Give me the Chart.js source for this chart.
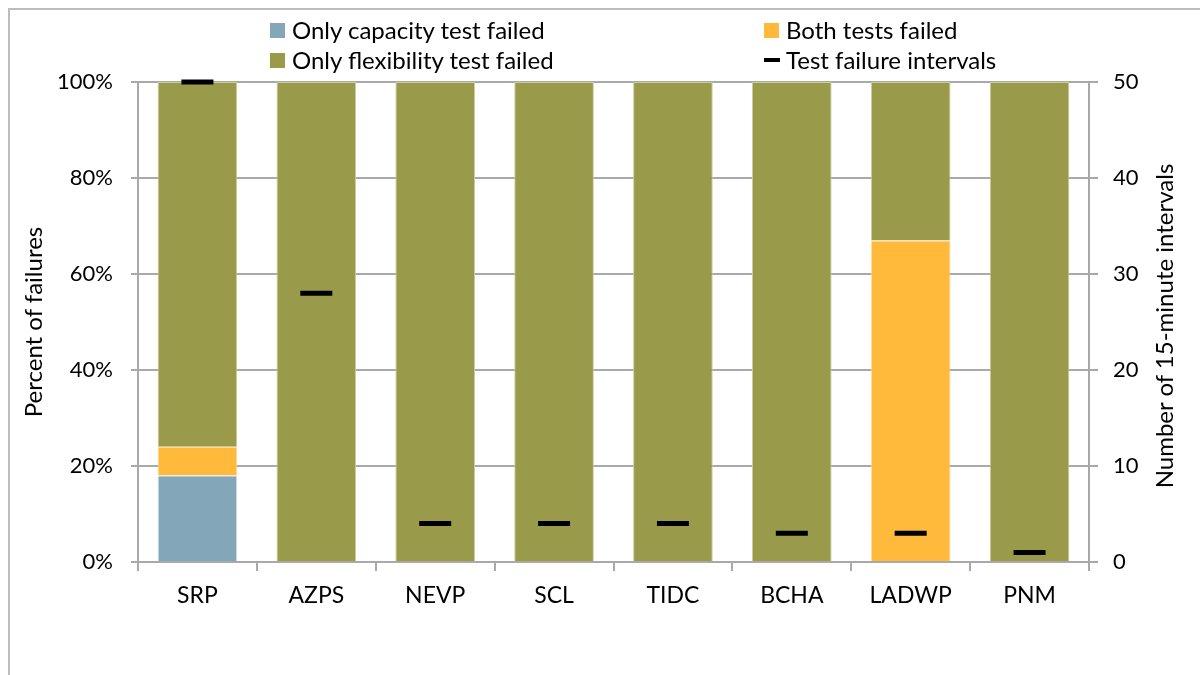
<!DOCTYPE html>
<html>
<head>
<meta charset="utf-8">
<script src="https://cdn.jsdelivr.net/npm/chart.js@4"></script>
<style>
    body { margin: 0; background: #fff; font-family: Lato, sans-serif; }
    #wrap { position: relative; width: 1200px; height: 675px; overflow: hidden; }
    #frame { position: absolute; left: 8px; top: 8px; width: 1300px; height: 800px; border-left: 2px solid #bdbdbd; border-top: 2px solid #bdbdbd; }
    #chart { position: absolute; left: 0; top: 0; }
    .lg { position: absolute; font-size: 24px; color: #000; line-height: 28px; white-space: nowrap; }
    .lg span.box { position: absolute; left: -22px; top: 7px; width: 15px; height: 15px; }
    .lg span.dash { position: absolute; left: -22px; top: 12px; width: 16px; height: 4px; background: #000; }
    .ttl { position: absolute; font-size: 24px; color: #000; line-height: 28px; white-space: nowrap;
           width: 400px; text-align: center; transform: rotate(-90deg); transform-origin: center center; }
</style>
</head>
<body>
<div id="wrap">
    <div id="frame"></div>
    <canvas id="chart" width="1200" height="675"></canvas>
    <div class="lg" style="left:292px; top:16px;"><span class="box" style="background:#84A6B9"></span>Only capacity test failed</div>
    <div class="lg" style="left:786px; top:16px;"><span class="box" style="background:#FFB93B"></span>Both tests failed</div>
    <div class="lg" style="left:292px; top:46px;"><span class="box" style="background:#9A9B4A"></span>Only flexibility test failed</div>
    <div class="lg" style="left:786px; top:46px;"><span class="dash"></span>Test failure intervals</div>
    <div class="ttl" style="left:-167px; top:308px;">Percent of failures</div>
    <div class="ttl" style="left:964px; top:312px;">Number of 15-minute intervals</div>
</div>
<script>
// Data
const categories = ['SRP', 'AZPS', 'NEVP', 'SCL', 'TIDC', 'BCHA', 'LADWP', 'PNM'];
const capacityOnly = [18, 0, 0, 0, 0, 0, 0, 0];
const bothFailed = [6, 0, 0, 0, 0, 0, 67, 0];
const flexibilityOnly = [76, 100, 100, 100, 100, 100, 33, 100];
const failureIntervals = [50, 28, 4, 4, 4, 3, 3, 1];

const gridColor = '#a9a9a9';
const fontFamily = 'Lato, sans-serif';

const ctx = document.getElementById('chart').getContext('2d');

new Chart(ctx, {
    type: 'bar',
    data: {
        labels: categories,
        datasets: [
            {
                label: 'Test failure intervals',
                type: 'line',
                data: failureIntervals,
                yAxisID: 'y1',
                showLine: false,
                clip: false,
                pointStyle: 'line',
                pointRadius: 16,
                pointHoverRadius: 16,
                borderColor: '#000',
                borderWidth: 5,
                order: 0
            },
            {
                label: 'Only capacity test failed',
                data: capacityOnly,
                backgroundColor: '#84A6B9',
                borderColor: '#d8e3ea',
                borderWidth: 1,
                yAxisID: 'y',
                order: 1
            },
            {
                label: 'Both tests failed',
                data: bothFailed,
                backgroundColor: '#FFB93B',
                borderColor: '#ffdc9a',
                borderWidth: 1,
                yAxisID: 'y',
                order: 1
            },
            {
                label: 'Only flexibility test failed',
                data: flexibilityOnly,
                backgroundColor: '#9A9B4A',
                borderColor: '#cdcd9f',
                borderWidth: 1,
                yAxisID: 'y',
                order: 1
            }
        ]
    },
    options: {
        responsive: false,
        animation: false,
        layout: { padding: { top: 82, right: 0, bottom: 0, left: 0 } },
        barPercentage: 0.67,
        categoryPercentage: 1,
        plugins: {
            legend: { display: false },
            tooltip: { enabled: false }
        },
        scales: {
            x: {
                stacked: true,
                grid: {
                    offset: true,
                    drawOnChartArea: false,
                    color: gridColor,
                    lineWidth: 2,
                    tickLength: 9
                },
                border: { color: gridColor, width: 2 },
                ticks: {
                    color: '#000',
                    padding: 11,
                    font: { family: fontFamily, size: 23 }
                },
                afterFit: function (scale) { scale.height = 675 - 562; }
            },
            y: {
                stacked: true,
                position: 'left',
                min: 0,
                max: 100,
                grid: {
                    color: gridColor,
                    lineWidth: 2,
                    tickLength: 7
                },
                border: { color: gridColor, width: 2 },
                ticks: {
                    stepSize: 20,
                    color: '#000',
                    padding: 18,
                    font: { family: fontFamily, size: 22 },
                    callback: function (v) { return v + '%'; }
                },
                afterFit: function (scale) { scale.width = 138; }
            },
            y1: {
                position: 'right',
                min: 0,
                max: 50,
                grid: {
                    drawOnChartArea: false,
                    color: gridColor,
                    lineWidth: 2,
                    tickLength: 9
                },
                border: { color: gridColor, width: 2 },
                ticks: {
                    stepSize: 10,
                    color: '#000',
                    padding: 15,
                    font: { family: fontFamily, size: 22 }
                },
                afterFit: function (scale) { scale.width = 111; }
            }
        }
    }
});
</script>
</body>
</html>
